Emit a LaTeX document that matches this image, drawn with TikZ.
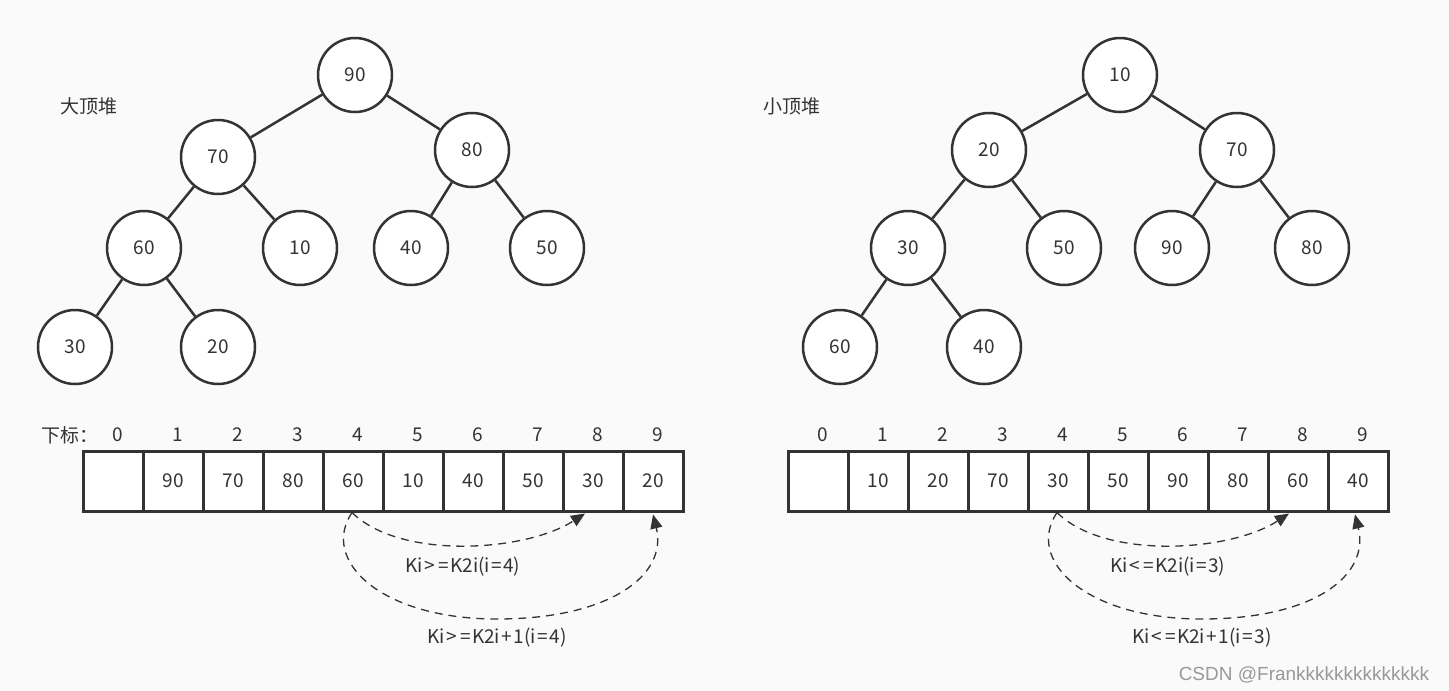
\documentclass[tikz,border=0pt]{standalone}
\usepackage{fontspec}
\setmainfont{Noto Sans CJK SC}
\newfontfamily\wmfont{Liberation Sans}
\usetikzlibrary{arrows.meta}
\definecolor{ink}{HTML}{333333}
\definecolor{bg}{HTML}{FAFAFA}
\newcommand{\op}[1]{\hspace{1.5pt}#1\hspace{1.5pt}}
\begin{document}
\begin{tikzpicture}[x=1pt,y=-1pt,
  hn/.style={circle,draw=ink,line width=2.5pt,fill=white,minimum size=74pt,inner sep=0pt,font=\fontsize{19}{21}\selectfont,text=ink},
  edge/.style={draw=ink,line width=2.5pt},
  cell/.style={rectangle,draw=ink,line width=3pt,fill=white,minimum width=60pt,minimum height=60pt,inner sep=0pt,font=\fontsize{19}{21}\selectfont,text=ink},
  idx/.style={font=\fontsize{19}{21}\selectfont,text=ink,inner sep=0pt},
  lbl/.style={font=\fontsize{19}{21}\selectfont,text=ink,inner sep=0pt},
  darr/.style={draw=ink,line width=1.3pt,dash pattern=on 8pt off 6pt,-{Triangle[length=14pt,width=12pt]}}]
\fill[bg] (0,0) rectangle (1449,691);
\useasboundingbox (0,0) rectangle (1449,691);
% ---------- left tree ----------
\node[lbl] (tl) at (89,106) {大顶堆};
\node[hn] (a1) at (355,75) {90};
\node[hn] (a2) at (218,157) {70};
\node[hn] (a3) at (472,150) {80};
\node[hn] (a4) at (144,248) {60};
\node[hn] (a5) at (300,248) {10};
\node[hn] (a6) at (411,248) {40};
\node[hn] (a7) at (547,248) {50};
\node[hn] (a8) at (75,347) {30};
\node[hn] (a9) at (218,347) {20};
\draw[edge] (a1) -- (a2); \draw[edge] (a1) -- (a3);
\draw[edge] (a2) -- (a4); \draw[edge] (a2) -- (a5);
\draw[edge] (a3) -- (a6); \draw[edge] (a3) -- (a7);
\draw[edge] (a4) -- (a8); \draw[edge] (a4) -- (a9);
% ---------- right tree ----------
\node[lbl] (tr) at (792,106) {小顶堆};
\node[hn] (b1) at (1120,75) {10};
\node[hn] (b2) at (989,150) {20};
\node[hn] (b3) at (1237,150) {70};
\node[hn] (b4) at (908,248) {30};
\node[hn] (b5) at (1064,248) {50};
\node[hn] (b6) at (1172,248) {90};
\node[hn] (b7) at (1312,248) {80};
\node[hn] (b8) at (840,347) {60};
\node[hn] (b9) at (984,347) {40};
\draw[edge] (b1) -- (b2); \draw[edge] (b1) -- (b3);
\draw[edge] (b2) -- (b4); \draw[edge] (b2) -- (b5);
\draw[edge] (b3) -- (b6); \draw[edge] (b3) -- (b7);
\draw[edge] (b4) -- (b8); \draw[edge] (b4) -- (b9);
% ---------- left array ----------
\node[lbl] (xb) at (70,435) {下标：};
\foreach \v [count=\i from 0] in {{},90,70,80,60,10,40,50,30,20} {
  \node[cell] (L\i) at (113+60*\i,481) {\v};
  \node[idx] (LI\i) at (118+60*\i,435) {\i};
}
% ---------- right array ----------
\foreach \v [count=\i from 0] in {{},10,20,70,30,50,90,80,60,40} {
  \node[cell] (R\i) at (818+60*\i,481) {\v};
  \node[idx] (RI\i) at (823+60*\i,435) {\i};
}
% ---------- left arrows ----------
\coordinate (ls) at ([xshift=-1pt]L4.south);
\coordinate (le1) at ([xshift=-8pt,yshift=-1pt]L8.south);
\coordinate (le2) at ([xshift=0pt,yshift=-2pt]L9.south);
\coordinate (lm2) at (497,619);
\draw[darr] (ls) .. controls (400,560) and (525,552) .. (le1);
\draw[darr] (ls) .. controls (320,560) and (380,619) .. (lm2) .. controls (610,619) and (668,575) .. (le2);
\node[lbl] (lk1) at (463,567) {Ki\op{>}\op{=}K2i(i\op{=}4)};
\node[lbl] (lk2) at (497,638) {Ki\op{>}\op{=}K2i\op{+}1(i\op{=}4)};
% ---------- right arrows ----------
\coordinate (rs) at ([xshift=-1pt]R4.south);
\coordinate (re1) at ([xshift=-9pt,yshift=-1pt]R8.south);
\coordinate (re2) at ([xshift=-3pt,yshift=-2pt]R9.south);
\coordinate (rm2) at (1202,619);
\draw[darr] (rs) .. controls (1105,560) and (1230,552) .. (re1);
\draw[darr] (rs) .. controls (1025,560) and (1085,619) .. (rm2) .. controls (1315,619) and (1370,575) .. (re2);
\node[lbl] (rk1) at (1168,567) {Ki\op{<}\op{=}K2i(i\op{=}3)};
\node[lbl] (rk2) at (1202,638) {Ki\op{<}\op{=}K2i\op{+}1(i\op{=}3)};
% ---------- watermark ----------
\node[font=\wmfont\fontsize{19}{21}\selectfont,text=black!40,inner sep=0pt] (wm) at (1304,675) {CSDN @Frankkkkkkkkkkkkkk};
\end{tikzpicture}
\end{document}
